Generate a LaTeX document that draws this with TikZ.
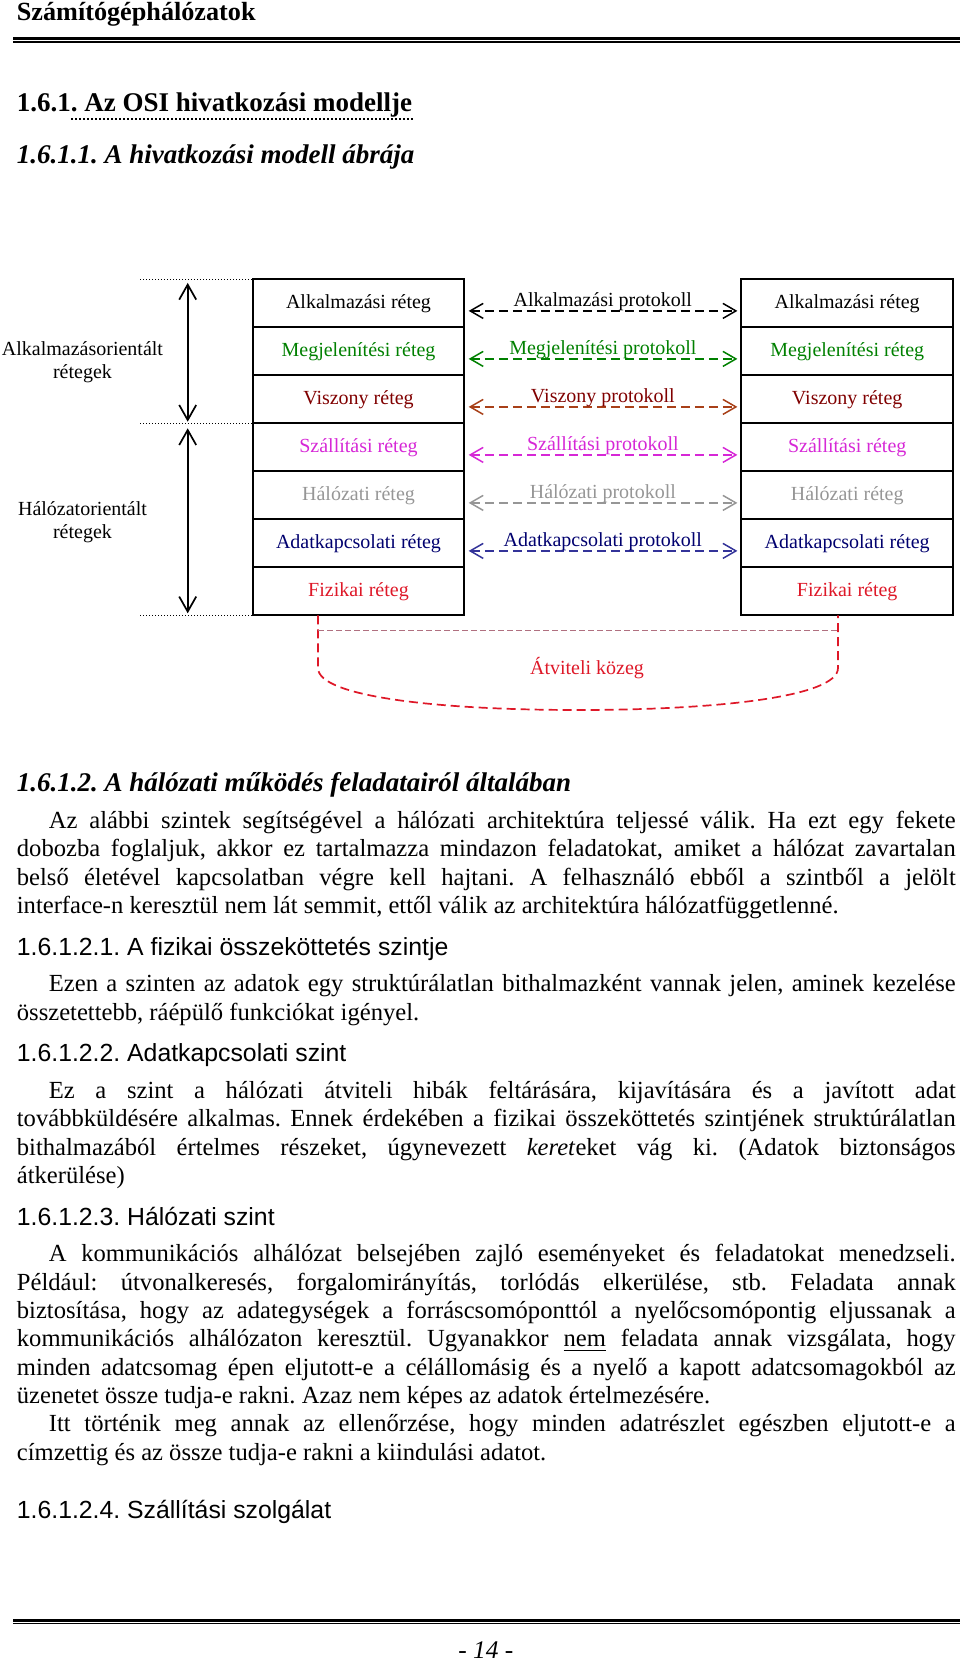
\documentclass[tikz,border=0pt]{standalone}
\usepackage{fontspec}
\setmainfont{Liberation Serif}
\setsansfont{Liberation Sans}
\usepackage{xcolor}
\usepackage{tikz}
\usetikzlibrary{positioning}
\usetikzlibrary{arrows.meta}
\usetikzlibrary{calc}

\definecolor{megjszin}{RGB}{0,128,0}
\definecolor{viszszin}{RGB}{128,0,0}
\definecolor{viszvonal}{RGB}{168,64,24}
\definecolor{szallszin}{RGB}{214,40,214}
\definecolor{halszin}{RGB}{150,150,150}
\definecolor{adatszin}{RGB}{0,0,110}
\definecolor{adatvonal}{RGB}{51,51,153}
\definecolor{fizszin}{RGB}{222,24,40}
\definecolor{kozegszurke}{RGB}{176,112,128}

\newcommand{\torzsbetu}{\fontsize{12.3pt}{14.2pt}\selectfont}
\newcommand{\retegbetu}{\fontsize{10pt}{11.65pt}\selectfont}
\newcommand{\alcimbetu}{\fontsize{12.4pt}{14.2pt}\selectfont\sffamily}

\hyphenpenalty=10000
\exhyphenpenalty=10000
\tolerance=10000
\frenchspacing

\tikzset{
  reteg/.style={draw, line width=1pt, minimum width=105.8pt, minimum height=24pt,
    inner sep=0pt, outer sep=0pt, font=\retegbetu, text height=7.5pt, text depth=2.5pt},
  protokoll/.style={line width=0.75pt, dash pattern=on 4.5pt off 2.5pt,
    {Straight Barb[length=6.5pt,width=7.5pt]}-{Straight Barb[length=6.5pt,width=7.5pt]},
    shorten <=2.2pt, shorten >=2pt},
  ptext/.style={font=\retegbetu, anchor=base, yshift=2pt, inner sep=0pt},
  csoportnyil/.style={line width=0.85pt,
    {Straight Barb[length=7.5pt,width=8.5pt]}-{Straight Barb[length=7.5pt,width=8.5pt]}},
  csoportfelirat/.style={anchor=base, text width=90pt, align=center, inner sep=0pt, font=\retegbetu},
  pontozott/.style={line width=0.6pt, dash pattern=on 0.6pt off 0.9pt},
  kozeg/.style={draw=fizszin, line width=0.85pt, dash pattern=on 4.5pt off 2.5pt},
  bekezdes/.style={anchor=base west, text width=469.4pt, inner sep=0pt, align=justify, font=\torzsbetu},
  alcim/.style={anchor=base west, inner sep=0pt, font=\alcimbetu},
  cimsor/.style={anchor=base west, inner sep=0pt, font=\fontsize{13.5pt}{16pt}\selectfont\bfseries},
}

\begin{document}
\begin{tikzpicture}[x=0.5pt,y=-0.5pt]
  \useasboundingbox (0,0) rectangle (960,1664);

  % page header
  \node[anchor=base west, inner sep=0pt, font=\fontsize{13.1pt}{16pt}\selectfont\bfseries] (fejlec) at (16.5,20.7) {Számítógéphálózatok};
  \draw[line width=1.35pt] (13.3,38.7) -- (960,38.7);
  \draw[line width=0.65pt] (13.3,42) -- (960,42);

  \node[cimsor] (osi) at (16.5,112) {1.6.1. Az OSI hivatkozási modellje};
  \draw[line width=1pt, dash pattern=on 1pt off 1pt] ($(osi.base west)+(54.5,7.5)$) -- ($(osi.base east)+(0,7.5)$);
  \node[cimsor, font=\fontsize{13.5pt}{16pt}\selectfont\bfseries\itshape] (abra) at (16.5,163.5) {1.6.1.1. A hivatkozási modell ábrája};

  % the two layer stacks
  \foreach \i/\nev/\szin in {1/Alkalmazási/black, 2/Megjelenítési/megjszin, 3/Viszony/viszszin,
      4/Szállítási/szallszin, 5/Hálózati/halszin, 6/Adatkapcsolati/adatszin, 7/Fizikai/fizszin}{
    \node[reteg, text=\szin] (bal\i) at (358.5, 255.3+48*\i) {\nev{} réteg};
    \node[reteg, text=\szin] (jobb\i) at (847.2, 255.3+48*\i) {\nev{} réteg};
  }

  % peer protocols
  \foreach \i/\nev/\szin/\vszin in {1/Alkalmazási/black/black, 2/Megjelenítési/megjszin/megjszin,
      3/Viszony/viszszin/viszvonal, 4/Szállítási/szallszin/szallszin, 5/Hálózati/halszin/halszin,
      6/Adatkapcsolati/adatszin/adatvonal}{
    \draw[protokoll, draw=\vszin] ([yshift=-3.8pt]bal\i.east) -- node[ptext, text=\szin] (prot\i) {\nev{} protokoll} ([yshift=-3.8pt]jobb\i.west);
  }

  % layer groups on the left
  \coordinate (pont1) at (140,279.3);
  \coordinate (pont2) at (140,423.3);
  \coordinate (pont3) at (140,615.3);
  \draw[pontozott] (pont1) -- (bal1.north west);
  \draw[pontozott] (pont2) -- (bal4.north west);
  \draw[pontozott] (pont3) -- (bal7.south west);
  \coordinate (nyil1) at (187.7,279.3);
  \coordinate (nyil2) at (187.7,423.3);
  \coordinate (nyil3) at (187.7,615.3);
  \draw[csoportnyil, shorten <=1.8pt, shorten >=0.8pt] (nyil1) -- (nyil2);
  \draw[csoportnyil, shorten <=2.5pt, shorten >=1pt] (nyil2) -- (nyil3);
  \node[csoportfelirat] (alkcsop) at (82.5,355) {Alkalmazásorientált\\rétegek};
  \node[csoportfelirat] (halcsop) at (82.5,515) {Hálózatorientált\\rétegek};

  % transmission medium
  \coordinate (kozegb) at (318,615.3);
  \coordinate (kozegj) at (838,615.3);
  \coordinate (kf1) at (318,630.7);
  \coordinate (kf2) at (838,630.7);
  \draw[kozeg] (kozegb) -- (318,668) .. controls (318,697) and (440,710) .. (578,710)
    .. controls (716,710) and (838,697) .. (838,668) -- (kozegj);
  \draw[draw=kozegszurke, line width=0.75pt, dash pattern=on 3pt off 1.5pt] (kf1) -- (kf2);
  \node[anchor=base, inner sep=0pt, font=\retegbetu, text=fizszin] (kozeg) at (587,674) {Átviteli közeg};

  % text below the figure
  \node[cimsor, font=\fontsize{13.5pt}{16pt}\selectfont\bfseries\itshape] (feladat) at (16.5,791.7) {1.6.1.2. A hálózati működés feladatairól általában};
  \node[bekezdes] (bek1) at (16.5,828.3) {\hspace*{16pt}Az alábbi szintek segítségével a hálózati architektúra teljessé válik. Ha ezt egy fekete\linebreak
    dobozba foglaljuk, akkor ez tartalmazza mindazon feladatokat, amiket a hálózat zavartalan\linebreak
    belső életével kapcsolatban végre kell hajtani. A felhasználó ebből a szintből a jelölt\linebreak
    interface-n keresztül nem lát semmit, ettől válik az architektúra hálózatfüggetlenné.};

  \node[alcim] (fizikai) at (16.5,955) {1.6.1.2.1. A fizikai összeköttetés szintje};
  \node[bekezdes] (bek2) at (16.5,991.7) {\hspace*{16pt}Ezen a szinten az adatok egy struktúrálatlan bithalmazként vannak jelen, aminek kezelése\linebreak
    összetettebb, ráépülő funkciókat igényel.};

  \node[alcim] (adatkap) at (16.5,1061.7) {1.6.1.2.2. Adatkapcsolati szint};
  \node[bekezdes] (bek3) at (16.5,1098.3) {\hspace*{16pt}Ez a szint a hálózati átviteli hibák feltárására, kijavítására és a javított adat\linebreak
    továbbküldésére alkalmas. Ennek érdekében a fizikai összeköttetés szintjének struktúrálatlan\linebreak
    bithalmazából értelmes részeket, úgynevezett \textit{keret}eket vág ki. (Adatok biztonságos\linebreak
    átkerülése)};

  \node[alcim] (halozati) at (16.5,1225) {1.6.1.2.3. Hálózati szint};
  \node[bekezdes] (bek4) at (16.5,1261.7) {\hspace*{16pt}A kommunikációs alhálózat belsejében zajló eseményeket és feladatokat menedzseli.\linebreak
    Például: útvonalkeresés, forgalomirányítás, torlódás elkerülése, stb. Feladata annak\linebreak
    biztosítása, hogy az adategységek a forráscsomóponttól a nyelőcsomópontig eljussanak a\linebreak
    kommunikációs alhálózaton keresztül. Ugyanakkor \underline{nem} feladata annak vizsgálata, hogy\linebreak
    minden adatcsomag épen eljutott-e a célállomásig és a nyelő a kapott adatcsomagokból az\linebreak
    üzenetet össze tudja-e rakni. Azaz nem képes az adatok értelmezésére.};
  \node[bekezdes] (bek5) at (16.5,1431.7) {\hspace*{16pt}Itt történik meg annak az ellenőrzése, hogy minden adatrészlet egészben eljutott-e a\linebreak
    címzettig és az össze tudja-e rakni a kiindulási adatot.};

  \node[alcim] (szallitasi) at (16.5,1518.5) {1.6.1.2.4. Szállítási szolgálat};

  % page footer
  \draw[line width=1.35pt] (13.3,1620.3) -- (960,1620.3);
  \draw[line width=0.65pt] (13.3,1623.5) -- (960,1623.5);
  \node[anchor=base, inner sep=0pt, font=\fontsize{12.7pt}{15pt}\selectfont\itshape] (oldal) at (485.8,1658.3) {- 14 -};
\end{tikzpicture}
\end{document}
